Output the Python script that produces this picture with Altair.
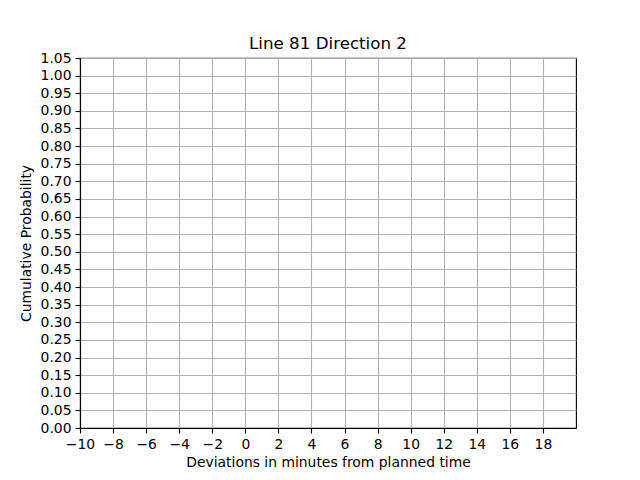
import altair as alt
import pandas as pd

# The reference chart shows an empty plot (no data drawn)
deviations = []
probabilities = []
x_ticks = [-10, -8, -6, -4, -2, 0, 2, 4, 6, 8, 10, 12, 14, 16, 18]
y_ticks = [round(i * 0.05, 2) for i in range(22)]

df = pd.DataFrame({"deviation": pd.Series(deviations, dtype=float),
                   "probability": pd.Series(probabilities, dtype=float)})

font = "DejaVu Sans"

chart = alt.Chart(df).mark_line(color="#1f77b4").encode(
    x=alt.X("deviation:Q",
            scale=alt.Scale(domain=[-10, 20], nice=False, zero=False),
            axis=alt.Axis(values=x_ticks, format="d",
                          title="Deviations in minutes from planned time")),
    y=alt.Y("probability:Q",
            scale=alt.Scale(domain=[0, 1.05], nice=False, zero=False),
            axis=alt.Axis(values=y_ticks, format=".2f",
                          title="Cumulative Probability")),
).properties(
    width=496, height=370,
    title=alt.TitleParams("Line 81 Direction 2", font=font, fontSize=16.7,
                          fontWeight="normal", color="black", offset=-2),
    autosize=alt.AutoSizeParams(type="none"),
    padding={"left": 72, "top": 50, "right": 56, "bottom": 44},
).configure_view(
    stroke="black", strokeWidth=1.1
).configure_axis(
    labelFont=font, labelFontSize=13.9, labelColor="black",
    titleFont=font, titleFontSize=13.9, titleFontWeight="normal", titleColor="black",
    tickColor="black", tickSize=5, tickWidth=1.1, labelPadding=4,
    domainColor="black", domainWidth=1.1,
    gridColor="#b0b0b0", gridWidth=1.1, gridOpacity=1,
    labelFlush=False, labelOverlap=False,
).configure_axisX(
    titlePadding=5,
).configure_axisY(
    titlePadding=7,
)

chart.save("out.html", embed_options={"renderer": "svg", "actions": False})
